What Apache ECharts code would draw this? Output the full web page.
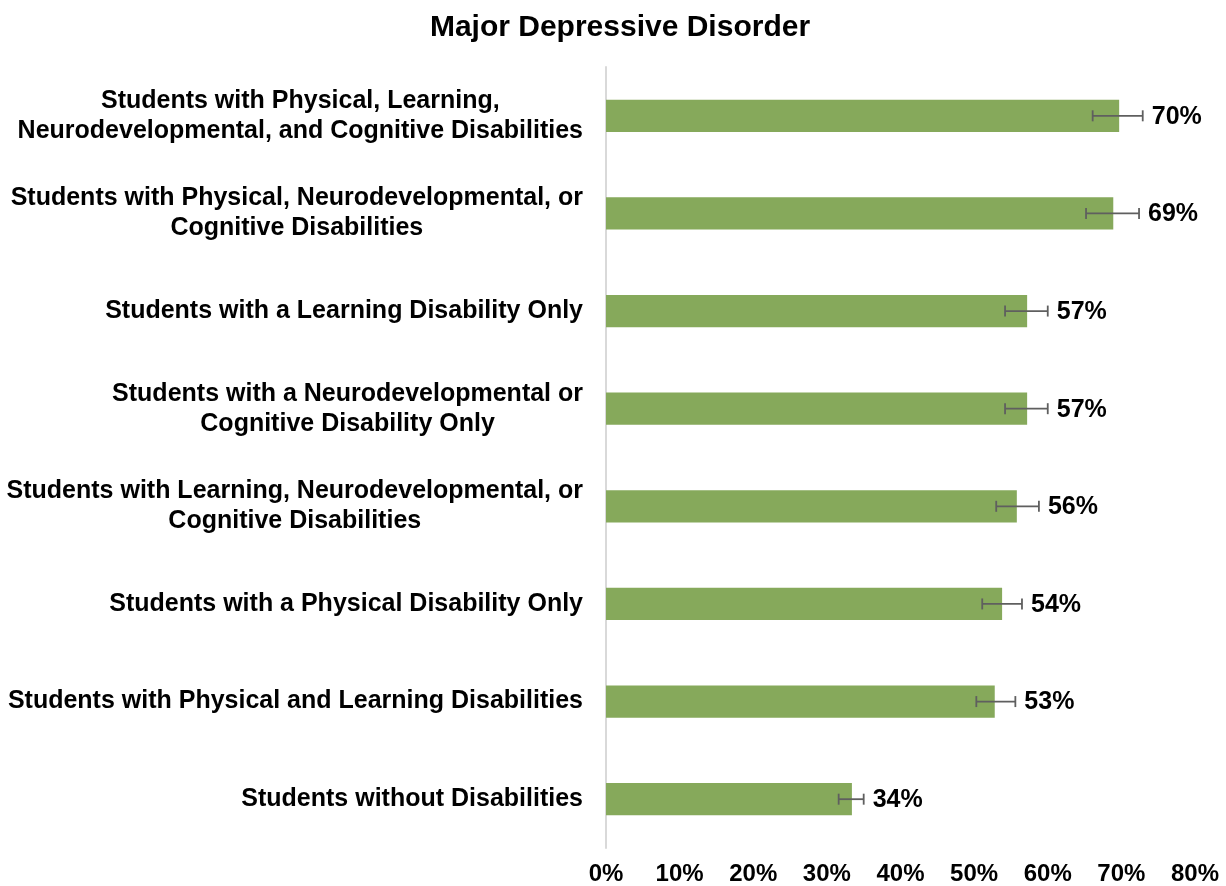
<!DOCTYPE html>
<html>
<head>
<meta charset="utf-8">
<script src="https://cdn.jsdelivr.net/npm/echarts@6/dist/echarts.min.js"></script>
<style>
html,body{margin:0;padding:0;background:#fff;}
#chart{width:1226px;height:886px;}
</style>
</head>
<body>
<div id="chart"></div>
<script>
var categories = [
  "Students with Physical, Learning,\nNeurodevelopmental, and Cognitive Disabilities",
  "Students with Physical, Neurodevelopmental, or\nCognitive Disabilities",
  "Students with a Learning Disability Only",
  "Students with a Neurodevelopmental or\nCognitive Disability Only",
  "Students with Learning, Neurodevelopmental, or\nCognitive Disabilities",
  "Students with a Physical Disability Only",
  "Students with Physical and Learning Disabilities",
  "Students without Disabilities"
];
var values = [69.7, 68.9, 57.2, 57.2, 55.8, 53.8, 52.8, 33.4];
var errLow = [66.1, 65.2, 54.2, 54.2, 53.0, 51.1, 50.3, 31.6];
var errHigh = [72.9, 72.4, 60.0, 60.0, 58.8, 56.5, 55.6, 35.0];
var valueLabels = ["70%", "69%", "57%", "57%", "56%", "54%", "53%", "34%"];
var tickValues = [0, 10, 20, 30, 40, 50, 60, 70, 80];

var FONT = '"Liberation Sans", Arial, sans-serif';
var chart = echarts.init(document.getElementById('chart'));

var errData = values.map(function (v, i) { return [i, errLow[i], errHigh[i]]; });

chart.setOption({
  animation: false,
  title: {
    text: 'Major Depressive Disorder',
    left: 615, top: 8, textAlign: 'center',
    textStyle: { fontFamily: FONT, fontWeight: 'bold', fontSize: 30, color: '#000' }
  },
  grid: { left: 606, right: 31, top: 67, bottom: 38, containLabel: false },
  xAxis: {
    type: 'value', min: 0, max: 80, interval: 10,
    axisLine: { show: false }, axisTick: { show: false },
    splitLine: { show: false },
    axisLabel: {
      margin: 14, color: '#000', fontFamily: FONT, fontWeight: 'bold', fontSize: 24,
      formatter: function (v) { return tickValues.indexOf(v) >= 0 ? v + '%' : ''; }
    }
  },
  yAxis: {
    type: 'category', data: categories, inverse: true,
    axisLine: { show: true, lineStyle: { color: '#d9d9d9', width: 2 } },
    axisTick: { show: false },
    axisLabel: {
      margin: 23, color: '#000', fontFamily: FONT, fontWeight: 'bold', fontSize: 25,
      lineHeight: 30, align: 'right',
      formatter: function (s) {
        return s.split('\n').map(function (l) { return '{c|' + l + '}'; }).join('\n');
      },
      rich: { c: { align: 'center', fontFamily: FONT, fontWeight: 'bold', fontSize: 25, lineHeight: 30, color: '#000' } }
    }
  },
  series: [
    {
      type: 'bar', data: values, barWidth: '33%',
      itemStyle: { color: '#86a95b' }, z: 2
    },
    {
      type: 'custom', data: errData, z: 5,
      renderItem: function (params, api) {
        var y = api.value(0);
        var lo = api.coord([api.value(1), y]);
        var hi = api.coord([api.value(2), y]);
        var cap = 5.5;
        var style = { stroke: '#5f5f5f', lineWidth: 1.8 };
        return {
          type: 'group',
          children: [
            { type: 'line', shape: { x1: lo[0], y1: lo[1], x2: hi[0], y2: hi[1] }, style: style },
            { type: 'line', shape: { x1: lo[0], y1: lo[1] - cap, x2: lo[0], y2: lo[1] + cap }, style: style },
            { type: 'line', shape: { x1: hi[0], y1: hi[1] - cap, x2: hi[0], y2: hi[1] + cap }, style: style },
            { type: 'text', x: hi[0] + 9, y: hi[1] + 1,
              style: { text: valueLabels[params.dataIndex], fill: '#000',
                font: 'bold 25px ' + FONT, verticalAlign: 'middle', align: 'left' } }
          ]
        };
      }
    }
  ]
});
</script>
</body>
</html>
